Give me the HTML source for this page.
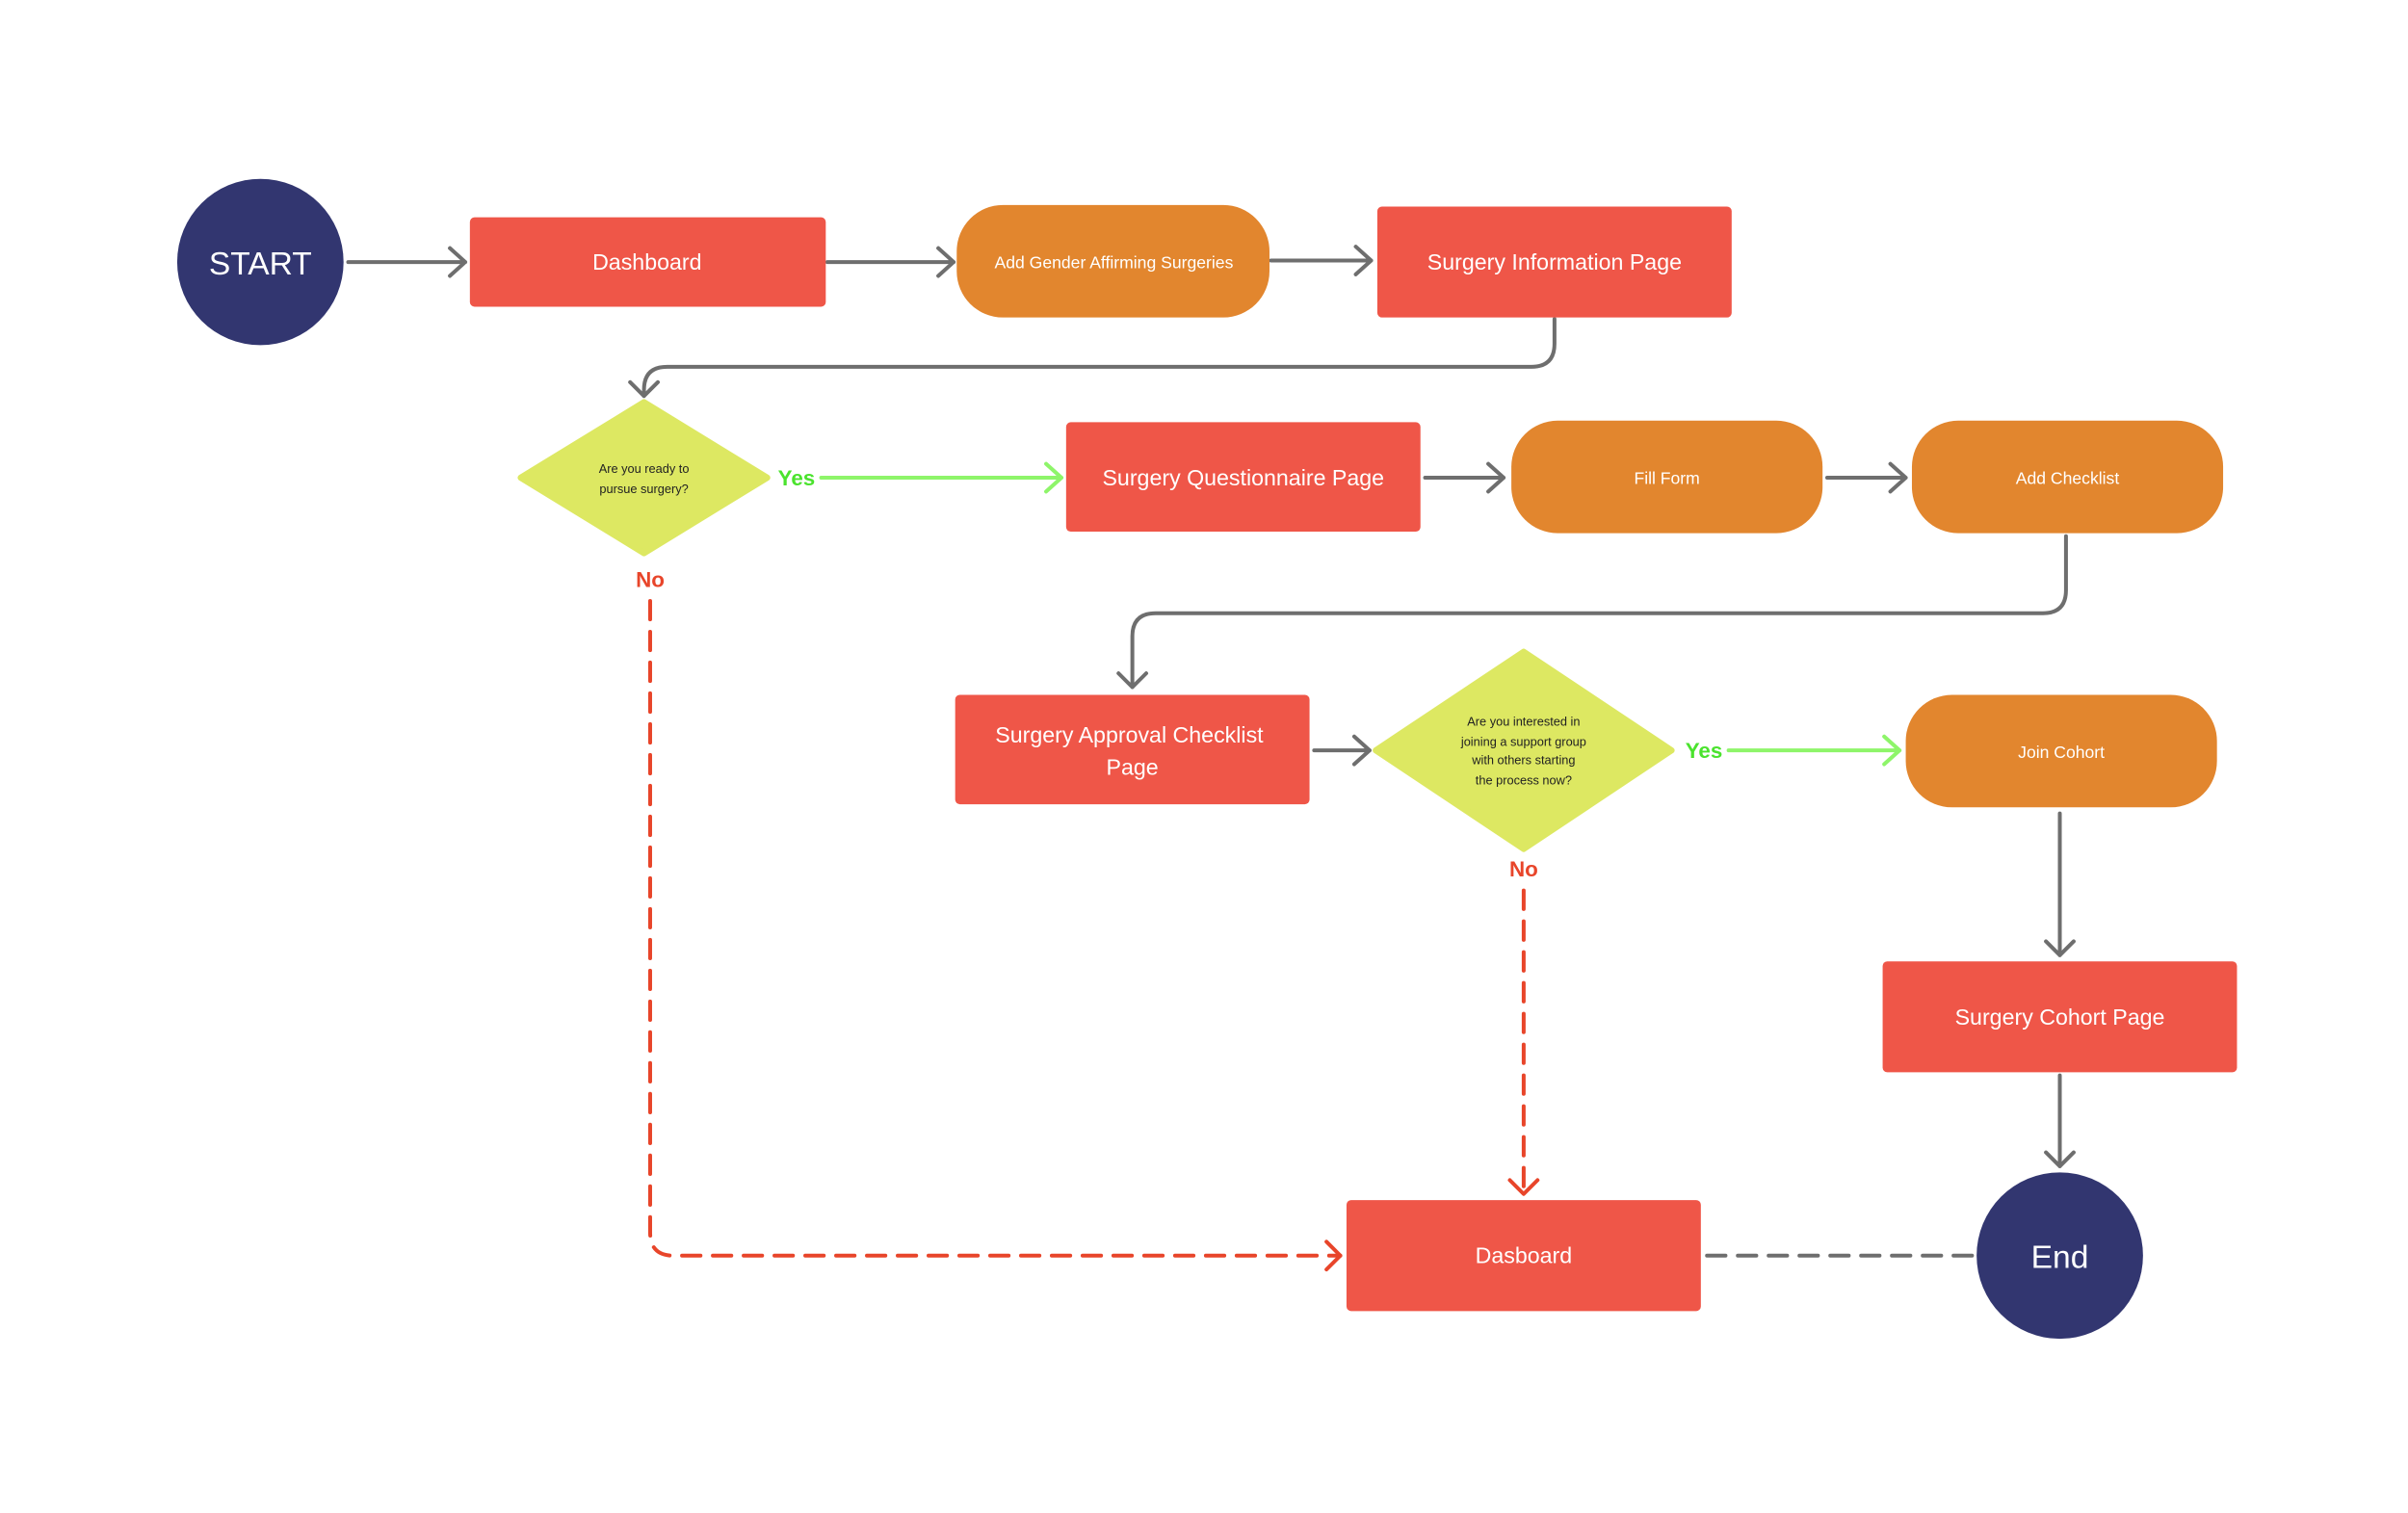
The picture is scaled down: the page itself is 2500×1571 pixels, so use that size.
<!DOCTYPE html>
<html><head><meta charset="utf-8"><style>
html,body{margin:0;padding:0;background:#fff;}
svg{display:block;}
text{font-family:"Liberation Sans",sans-serif;}
</style></head><body>
<svg width="2500" height="1571" viewBox="0 0 1563 982" xmlns="http://www.w3.org/2000/svg">
<rect width="1563" height="982" fill="#fff"/>
<g fill="none" stroke="#6e6e6e" stroke-width="2.5" stroke-linecap="round" stroke-linejoin="round">
<path d="M226 170H302M292 161L302 170L292 179"/>
<path d="M537 170H619M609 161L619 170L609 179"/>
<path d="M825 169H890M880 160L890 169L880 178"/>
<path d="M1009 207V223Q1009 238 994 238H433Q418 238 418 253V257M409 248L418 257L427 248"/>
<path d="M925 310H976M966 301L976 310L966 319"/>
<path d="M1186 310H1237M1227 301L1237 310L1227 319"/>
<path d="M1341 348V383Q1341 398 1326 398H750Q735 398 735 413V446M726 437L735 446L744 437"/>
<path d="M853 487H889M879 478L889 487L879 496"/>
<path d="M1337 528V620M1328 611L1337 620L1346 611"/>
<path d="M1337 698V757M1328 748L1337 757L1346 748"/>
<path d="M1108 815H1282" stroke-dasharray="12 8"/>
</g>
<g fill="none" stroke="#8ef56a" stroke-width="2.5" stroke-linecap="round" stroke-linejoin="round">
<path d="M533 310H689M679 301L689 310L679 319"/>
<path d="M1122 487H1233M1223 478L1233 487L1223 496"/>
</g>
<g fill="none" stroke="#e8452a" stroke-width="2.5" stroke-linecap="round" stroke-linejoin="round">
<path d="M422 390V800Q422 815 437 815H870" stroke-dasharray="12 8"/>
<path d="M861 806L870 815L861 824"/>
<path d="M989 578V775" stroke-dasharray="12 8"/>
<path d="M980 766L989 775L998 766"/>
</g>
<circle cx="169" cy="170" r="54" fill="#323670"/>
<text x="169" y="178" font-size="21" fill="#fff" text-anchor="middle">START</text>
<circle cx="1337" cy="815" r="54" fill="#323670"/>
<text x="1337" y="823" font-size="21" fill="#fff" text-anchor="middle">End</text>
<g fill="#ef5648">
<rect x="305" y="141" width="231" height="58" rx="3"/>
<rect x="894" y="134" width="230" height="72" rx="3"/>
<rect x="692" y="274" width="230" height="71" rx="3"/>
<rect x="620" y="451" width="230" height="71" rx="3"/>
<rect x="1222" y="624" width="230" height="72" rx="3"/>
<rect x="874" y="779" width="230" height="72" rx="3"/>
</g>
<g fill="#e2862e">
<rect x="621" y="133" width="203" height="73" rx="30"/>
<rect x="981" y="273" width="202" height="73" rx="30"/>
<rect x="1241" y="273" width="202" height="73" rx="30"/>
<rect x="1237" y="451" width="202" height="73" rx="30"/>
</g>
<g fill="#dde862" stroke="#dde862" stroke-width="4" stroke-linejoin="round">
<path d="M418 261L498 310L418 359L338 310Z"/>
<path d="M989 423L1085 487L989 551L893 487Z"/>
</g>
<g fill="#fff" text-anchor="middle" font-size="14.5">
<text x="420" y="175">Dashboard</text>
<text x="1009" y="175">Surgery Information Page</text>
<text x="807" y="315">Surgery Questionnaire Page</text>
<text x="733" y="482">Surgery Approval Checklist</text>
<text x="735" y="503">Page</text>
<text x="1337" y="665">Surgery Cohort Page</text>
<text x="989" y="820">Dasboard</text>
</g>
<g fill="#fff" text-anchor="middle" font-size="11">
<text x="723" y="174">Add Gender Affirming Surgeries</text>
<text x="1082" y="314">Fill Form</text>
<text x="1342" y="314">Add Checklist</text>
<text x="1338" y="492">Join Cohort</text>
</g>
<g fill="#222" text-anchor="middle" font-size="8">
<text x="418" y="307">Are you ready to</text>
<text x="418" y="320">pursue surgery?</text>
<text x="989" y="471">Are you interested in</text>
<text x="989" y="484">joining a support group</text>
<text x="989" y="496">with others starting</text>
<text x="989" y="509">the process now?</text>
</g>
<g font-size="14" font-weight="bold" text-anchor="middle">
<text x="517" y="315" fill="#4be32e">Yes</text>
<text x="1106" y="492" fill="#4be32e">Yes</text>
<text x="422" y="381" fill="#e8452a">No</text>
<text x="989" y="569" fill="#e8452a">No</text>
</g>
</svg>
</body></html>
